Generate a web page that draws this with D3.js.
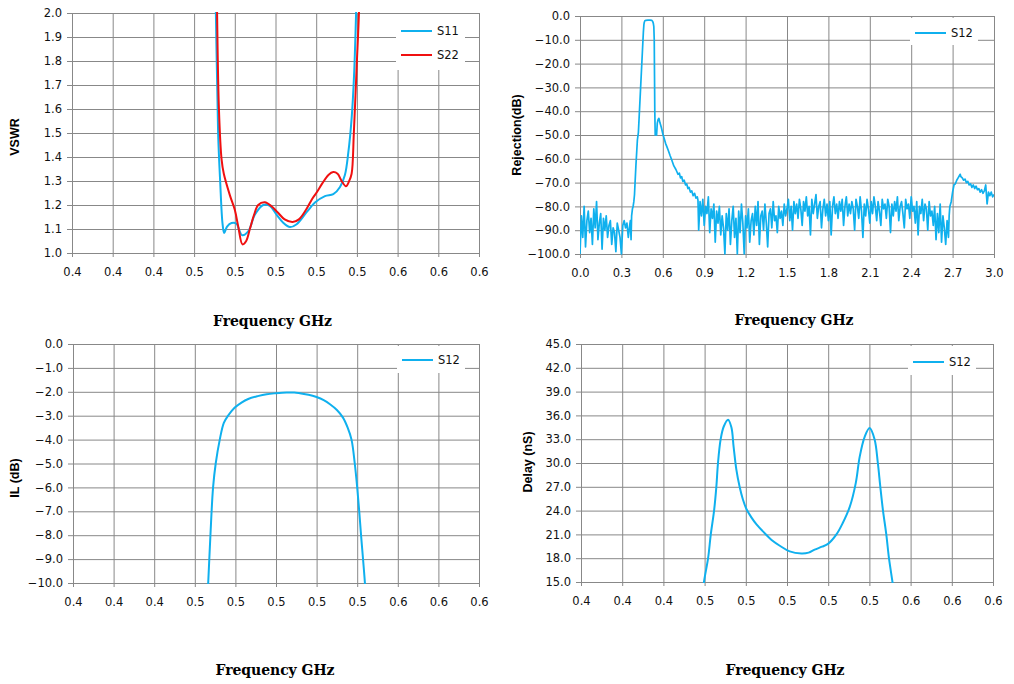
<!DOCTYPE html>
<html>
<head>
<meta charset="utf-8">
<script src="https://cdn.jsdelivr.net/npm/d3@7"></script>
<style>
  body { margin: 0; background: #fff; }
  .tick text { font-family: "DejaVu Sans", sans-serif; font-size: 11.5px; fill: #111; }
  .tick line { stroke: #888; }
  .ytitle { font-family: "Liberation Sans", Arial, sans-serif; font-weight: bold; font-size: 12.5px; fill: #000; }
  .xtitle { font-family: "DejaVu Serif", serif; font-weight: bold; font-size: 14px; fill: #000; }
  .legend text { font-family: "DejaVu Sans", sans-serif; font-size: 11.5px; fill: #111; }
</style>
</head>
<body>
<svg id="chart" width="1014" height="684"></svg>
<script>
// ---------------- data ----------------
// tick values (labels shown with one decimal, like the original)
const xTicksNarrow = [0.40, 0.42, 0.44, 0.46, 0.48, 0.50, 0.52, 0.54, 0.56, 0.58, 0.60];
const xTicksWide = [0.0, 0.3, 0.6, 0.9, 1.2, 1.5, 1.8, 2.1, 2.4, 2.7, 3.0];
const yTicksVswr = [1.0, 1.1, 1.2, 1.3, 1.4, 1.5, 1.6, 1.7, 1.8, 1.9, 2.0];
const yTicksRej = [-100, -90, -80, -70, -60, -50, -40, -30, -20, -10, 0];
const yTicksIL = [-10, -9, -8, -7, -6, -5, -4, -3, -2, -1, 0];
const yTicksDelay = [15, 18, 21, 24, 27, 30, 33, 36, 39, 42, 45];

// VSWR [GHz, ratio]
const vswrS11 = [
  [0.4695, 2.6], [0.4707, 2.0], [0.4718, 1.5], [0.4728, 1.3], [0.4740, 1.12], [0.4748, 1.083],
  [0.4762, 1.11], [0.4784, 1.125], [0.4808, 1.122], [0.4822, 1.095], [0.4836, 1.074],
  [0.4866, 1.09], [0.4899, 1.16], [0.4940, 1.20], [0.4972, 1.196], [0.5005, 1.16],
  [0.5038, 1.126], [0.5071, 1.108], [0.5104, 1.12], [0.5153, 1.17], [0.5194, 1.21],
  [0.5243, 1.237], [0.5284, 1.245], [0.5317, 1.275], [0.5341, 1.325], [0.5358, 1.42],
  [0.5374, 1.56], [0.5386, 1.74], [0.5396, 2.0], [0.5404, 2.3]
];
const vswrS22 = [
  [0.4706, 2.6], [0.4713, 2.0], [0.4722, 1.6], [0.4735, 1.39], [0.4746, 1.33],
  [0.4776, 1.24], [0.4800, 1.18], [0.4817, 1.11], [0.4838, 1.036], [0.4856, 1.05],
  [0.4874, 1.10], [0.4895, 1.16], [0.4915, 1.20], [0.4948, 1.211], [0.4980, 1.195],
  [0.5010, 1.17], [0.5045, 1.14], [0.5084, 1.129], [0.5115, 1.14], [0.5150, 1.18],
  [0.5180, 1.225], [0.5202, 1.252], [0.5230, 1.29], [0.5260, 1.325], [0.5284, 1.337],
  [0.5305, 1.33], [0.5325, 1.30], [0.5346, 1.278], [0.5362, 1.30], [0.5374, 1.33],
  [0.5385, 1.50], [0.5399, 1.78], [0.5410, 2.0], [0.5418, 2.3]
];

// Rejection S12, wide band.  Noise floors sampled every 10 MHz, skirt and
// harmonic region given as [GHz, dB] pairs.
const rejLowStart = 0.00;
const rejLow = [
  -100, -84, -93, -80, -97, -86, -82, -91, -85, -96,
  -81, -89, -78, -94, -87, -83, -98, -85, -90, -84,
  -93, -88, -86, -96, -89, -91, -99, -87, -90, -93,
  -100, -88, -86, -89, -87, -93, -88
];
const rejSkirt = [
  [0.365, -86], [0.370, -94], [0.374, -84], [0.380, -81], [0.385, -80], [0.390, -78],
  [0.395, -75], [0.399, -70], [0.405, -63], [0.410, -58], [0.416, -52], [0.423, -49],
  [0.429, -42], [0.435, -35], [0.441, -28], [0.447, -21], [0.453, -14], [0.459, -7],
  [0.463, -3.6], [0.466, -2.6], [0.470, -2.0], [0.478, -1.8], [0.492, -1.75], [0.508, -1.75],
  [0.520, -1.85], [0.526, -2.2], [0.531, -3.0], [0.535, -4.5], [0.538, -10], [0.540, -25],
  [0.542, -40], [0.545, -50], [0.550, -49.5], [0.555, -50], [0.560, -45], [0.566, -43.5],
  [0.572, -43], [0.580, -45], [0.590, -47], [0.600, -49.5], [0.610, -51.5], [0.620, -53.5],
  [0.630, -55], [0.640, -56.5], [0.652, -58.5], [0.665, -60.5], [0.680, -63], [0.695, -64.5],
  [0.710, -66.5], [0.720, -66], [0.728, -68], [0.737, -67.5], [0.745, -69.5], [0.755, -69],
  [0.765, -71], [0.773, -70.5], [0.782, -72.5], [0.790, -72], [0.800, -74], [0.810, -73.5],
  [0.820, -75.5], [0.830, -74.5], [0.840, -76.5], [0.850, -76], [0.855, -77.5]
];
const rejHighStart = 0.86;
const rejHigh = [
  -90, -78, -84, -77, -88, -80, -83, -76, -91, -81,
  -85, -79, -95, -82, -87, -80, -92, -84, -89, -100,
  -83, -90, -81, -96, -86, -80, -93, -85, -100, -82,
  -91, -79, -87, -100, -84, -89, -81, -95, -86, -83,
  -92, -80, -88, -78, -96, -84, -82, -90, -79, -87,
  -97, -83, -81, -89, -78, -86, -84, -91, -80, -85,
  -82, -88, -79, -84, -81, -77, -86, -80, -90, -78,
  -83, -79, -85, -77, -81, -88, -78, -82, -76, -84,
  -80, -92, -77, -83, -79, -75, -85, -80, -78, -89,
  -81, -77, -84, -79, -86, -78, -92, -80, -76, -83,
  -79, -85, -78, -82, -77, -88, -80, -76, -84, -79,
  -83, -78, -81, -90, -77, -80, -85, -76, -82, -93,
  -79, -84, -77, -81, -87, -78, -83, -76, -80, -86,
  -78, -82, -88, -77, -81, -79, -85, -77, -80, -91,
  -79, -84, -78, -82, -76, -86, -80, -78, -83, -89,
  -77, -81, -79, -85, -76, -82, -80, -87, -78, -92,
  -80, -83, -77, -86, -79, -81, -90, -78, -84, -82,
  -88, -80, -94, -83, -91, -79, -95, -84, -89, -96,
  -86, -93
];
const rejTail = [
  [2.675, -84], [2.680, -80], [2.690, -78], [2.700, -74], [2.710, -71], [2.720, -70.5],
  [2.730, -69], [2.740, -68], [2.750, -67], [2.755, -66.5], [2.760, -67.5], [2.770, -68],
  [2.780, -69], [2.790, -68.5], [2.800, -70], [2.810, -69.5], [2.820, -71], [2.830, -70.5],
  [2.840, -72], [2.850, -71], [2.860, -72.5], [2.870, -71.5], [2.880, -73], [2.890, -72.5],
  [2.900, -74], [2.910, -73], [2.920, -74.5], [2.930, -73.5], [2.940, -71], [2.950, -79],
  [2.960, -74], [2.970, -75.5], [2.980, -74], [2.990, -76], [3.000, -75]
];

// Insertion loss S12 [GHz, dB]
const ilS12 = [
  [0.4660, -11], [0.4666, -10], [0.4677, -8.0], [0.4690, -6.0], [0.4703, -5.0], [0.4723, -4.0],
  [0.4743, -3.3], [0.4764, -3.0], [0.4797, -2.66], [0.4830, -2.45], [0.4863, -2.3],
  [0.4910, -2.18], [0.4954, -2.1], [0.5000, -2.06], [0.5052, -2.03], [0.5090, -2.03],
  [0.5118, -2.06], [0.5160, -2.12], [0.5200, -2.22], [0.5235, -2.35], [0.5266, -2.52],
  [0.5300, -2.76], [0.5330, -3.08], [0.5353, -3.5], [0.5372, -4.0], [0.5388, -5.0],
  [0.5400, -6.0], [0.5410, -7.0], [0.5419, -8.0], [0.5438, -10.0], [0.5444, -11]
];

// Group delay S12 [GHz, ns]
const delayS12 = [
  [0.4592, 13.5], [0.4597, 15], [0.4617, 18], [0.4630, 21], [0.4646, 24], [0.4657, 27],
  [0.4665, 30], [0.4678, 33], [0.4693, 34.6], [0.4714, 35.45], [0.4730, 34.5], [0.4741, 32.0],
  [0.4754, 29.2], [0.4770, 27], [0.4786, 25.4], [0.4803, 24.2], [0.4827, 23.15], [0.4851, 22.3],
  [0.4892, 21.15], [0.4930, 20.2], [0.4965, 19.57], [0.5013, 18.86], [0.5070, 18.6],
  [0.5105, 18.7], [0.5134, 19.07], [0.5170, 19.45], [0.5199, 19.8], [0.5240, 21],
  [0.5270, 22.4], [0.5305, 24.5], [0.5334, 27.5], [0.5353, 30.8], [0.5377, 33.3],
  [0.5401, 34.41], [0.5425, 33], [0.5441, 30], [0.5453, 27], [0.5466, 24], [0.5482, 21],
  [0.5495, 18], [0.5512, 15], [0.5517, 14]
];

const BLUE = "#0fb0ee";
const RED = "#f01010";
const GRID = "#888";

// build the wide-band rejection series in frequency order
const rejS12 = []
  .concat(rejLow.map((v, i) => [rejLowStart + i * 0.01, v]))
  .concat(rejSkirt)
  .concat(rejHigh.map((v, i) => [rejHighStart + i * 0.01, v]))
  .concat(rejTail)
  .sort((a, b) => a[0] - b[0]);

const svg = d3.select("#chart");
const fmt = d3.format(".1f");

//-------------------------------------------------------------------
function drawPanel(p) {
  const w = p.right - p.left, h = p.bottom - p.top;
  const x = d3.scaleLinear().domain(p.xDomain).range([p.left, p.right]);
  const y = d3.scaleLinear().domain(p.yDomain).range([p.bottom, p.top]);
  const g = svg.append("g");

  // vertical grid + bottom ticks
  g.append("g")
    .attr("transform", "translate(0," + (p.bottom + 4) + ")")
    .call(d3.axisBottom(x).tickValues(p.xTicks).tickFormat(fmt)
      .tickSize(-(h + 4)).tickPadding(11))
    .call(a => a.select(".domain").remove())
    .call(a => a.selectAll(".tick line").attr("stroke", GRID));

  // horizontal grid + left ticks
  g.append("g")
    .attr("transform", "translate(" + (p.left - 5) + ",0)")
    .call(d3.axisLeft(y).tickValues(p.yTicks).tickFormat(fmt)
      .tickSize(-(w + 5)).tickPadding(5))
    .call(a => a.select(".domain").remove())
    .call(a => a.selectAll(".tick line").attr("stroke", GRID));

  // clip the traces to the plot area
  const clipId = "clip" + p.id;
  svg.append("clipPath").attr("id", clipId)
    .append("rect").attr("x", p.left).attr("y", p.top - 1).attr("width", w).attr("height", h + 2);

  const line = d3.line()
    .x(d => x(d[0]))
    .y(d => y(d[1]))
    .curve(p.smooth ? d3.curveCatmullRom.alpha(0.5) : d3.curveLinear);

  g.append("g").attr("clip-path", "url(#" + clipId + ")")
    .selectAll("path")
    .data(p.series)
    .enter()
    .append("path")
      .attr("d", s => line(s.data))
      .attr("fill", "none")
      .attr("stroke", s => s.color)
      .attr("stroke-width", p.lineWidth)
      .attr("stroke-linejoin", "round");

  // legend box
  const lg = g.append("g").attr("class", "legend");
  lg.append("rect")
    .attr("x", p.legend.x).attr("y", p.legend.y)
    .attr("width", p.legend.w).attr("height", p.legend.h)
    .attr("fill", "#fff");
  p.series.forEach((s, i) => {
    const ly = p.legend.row0 + i * 24;
    lg.append("line")
      .attr("x1", p.legend.x + 5).attr("x2", p.legend.x + 36)
      .attr("y1", ly).attr("y2", ly)
      .attr("stroke", s.color).attr("stroke-width", 2);
    lg.append("text")
      .attr("x", p.legend.x + 41).attr("y", ly + 4)
      .text(s.name);
  });

  // axis titles
  g.append("text").attr("class", "ytitle")
    .attr("transform", "translate(" + p.yTitle[0] + "," + p.yTitle[1] + ") rotate(-90)")
    .attr("text-anchor", "middle").attr("dy", "0.35em")
    .text(p.yLabel);
  g.append("text").attr("class", "xtitle")
    .attr("x", p.xTitle[0] - 59.5).attr("y", p.xTitle[1])
    .attr("textLength", 119).attr("lengthAdjust", "spacing")
    .text("Frequency GHz");
}

drawPanel({
  id: "vswr", left: 72, right: 479, top: 13, bottom: 253,
  xDomain: [0.4, 0.6], xTicks: xTicksNarrow,
  yDomain: [1, 2], yTicks: yTicksVswr,
  series: [{name: "S11", color: BLUE, data: vswrS11}, {name: "S22", color: RED, data: vswrS22}],
  smooth: true, lineWidth: 2,
  legend: {x: 396, y: 14, w: 69, h: 56, row0: 31},
  yLabel: "VSWR", yTitle: [15, 137], xTitle: [272.5, 326]
});

drawPanel({
  id: "rej", left: 580, right: 994, top: 16, bottom: 254,
  xDomain: [0, 3], xTicks: xTicksWide,
  yDomain: [-100, 0], yTicks: yTicksRej,
  series: [{name: "S12", color: BLUE, data: rejS12}],
  smooth: false, lineWidth: 1.7,
  legend: {x: 910, y: 18, w: 68, h: 27, row0: 33},
  yLabel: "Rejection(dB)", yTitle: [517, 135], xTitle: [794, 325]
});

drawPanel({
  id: "il", left: 73, right: 479, top: 344, bottom: 583,
  xDomain: [0.4, 0.6], xTicks: xTicksNarrow,
  yDomain: [-10, 0], yTicks: yTicksIL,
  series: [{name: "S12", color: BLUE, data: ilS12}],
  smooth: true, lineWidth: 2,
  legend: {x: 397, y: 346, w: 68, h: 27, row0: 360},
  yLabel: "IL (dB)", yTitle: [15, 478], xTitle: [275, 675]
});

drawPanel({
  id: "delay", left: 581, right: 993, top: 344, bottom: 582,
  xDomain: [0.4, 0.6], xTicks: xTicksNarrow,
  yDomain: [15, 45], yTicks: yTicksDelay,
  series: [{name: "S12", color: BLUE, data: delayS12}],
  smooth: true, lineWidth: 2,
  legend: {x: 908, y: 346, w: 68, h: 29, row0: 362},
  yLabel: "Delay (nS)", yTitle: [528, 462], xTitle: [785, 675]
});
</script>
</body>
</html>
